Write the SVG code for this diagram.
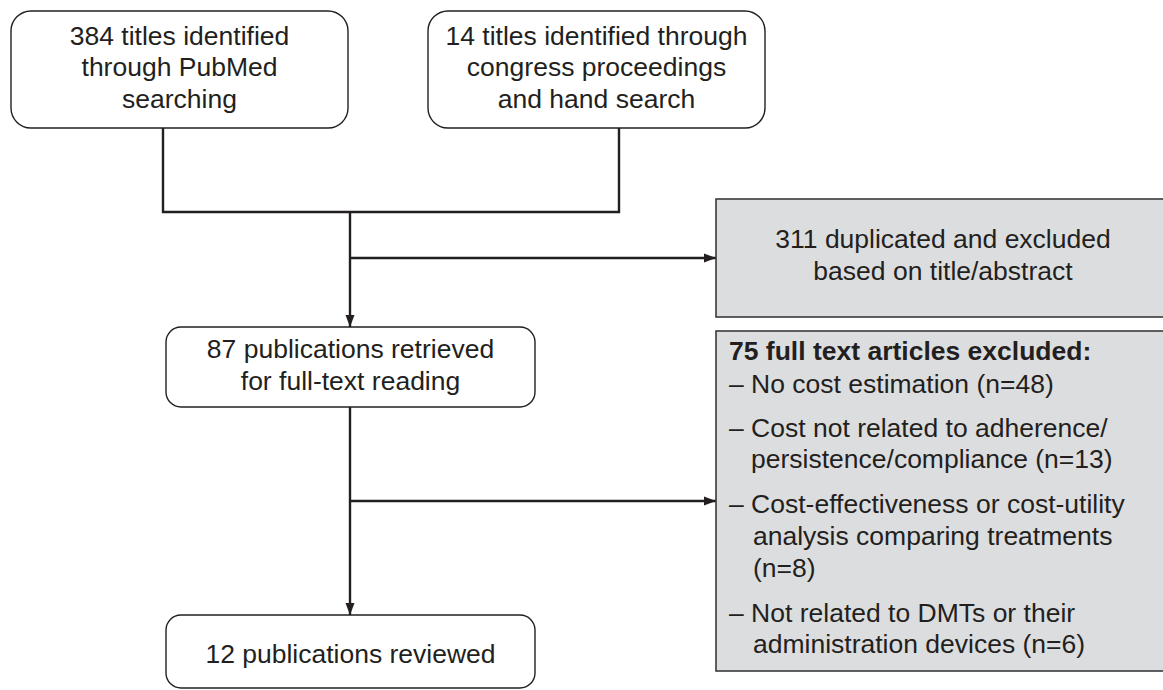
<svg xmlns="http://www.w3.org/2000/svg" width="1163" height="690" viewBox="0 0 1163 690">
<style>
.box{fill:#ffffff;stroke:#231f20;stroke-width:1.4}
.grey{fill:#dcdddf;stroke:#3a3a3c;stroke-width:1.6}
.t{font-family:"Liberation Sans",Arial,sans-serif;font-size:26.5px;fill:#231f20}
.c{text-anchor:middle}
.b{font-weight:bold}
.conn{fill:none;stroke:#231f20;stroke-width:2.4}
</style>
<defs>
<marker id="arr" markerUnits="userSpaceOnUse" markerWidth="12" markerHeight="12" viewBox="0 0 12 12" refX="12" refY="6" orient="auto">
<path d="M0,1.5 L12,6 L0,10.5 Z" fill="#231f20"/>
</marker>
</defs>
<rect width="1163" height="690" fill="#ffffff"/>
<g id="connectors">
<path class="conn" d="M163,128 V212 H619 V128"/>
<path class="conn" d="M350,212 V327" marker-end="url(#arr)"/>
<path class="conn" d="M350,258 H716" marker-end="url(#arr)"/>
<path class="conn" d="M350,407 V615" marker-end="url(#arr)"/>
<path class="conn" d="M350,501 H716" marker-end="url(#arr)"/>
</g>
<g id="node-pubmed">
<rect class="box" x="11" y="11" width="337" height="117" rx="20"/>
<text class="t c" x="179.5" y="45">384 titles identified</text>
<text class="t c" x="179.5" y="76">through PubMed</text>
<text class="t c" x="179.5" y="108">searching</text>
</g>
<g id="node-congress">
<rect class="box" x="428" y="11" width="337" height="117" rx="20"/>
<text class="t c" x="596.5" y="45">14 titles identified through</text>
<text class="t c" x="596.5" y="76">congress proceedings</text>
<text class="t c" x="596.5" y="108">and hand search</text>
</g>
<g id="node-duplicated">
<rect class="grey" x="716" y="199" width="460" height="118"/>
<text class="t c" x="943" y="248">311 duplicated and excluded</text>
<text class="t c" x="943" y="280">based on title/abstract</text>
</g>
<g id="node-retrieved">
<rect class="box" x="166" y="327" width="369" height="80" rx="15"/>
<text class="t c" x="350.5" y="358">87 publications retrieved</text>
<text class="t c" x="350.5" y="390">for full-text reading</text>
</g>
<g id="node-excluded">
<rect class="grey" x="716" y="331" width="460" height="340"/>
<text class="t b" x="729" y="360">75 full text articles excluded:</text>
<text class="t" x="729" y="393">– No cost estimation (n=48)</text>
<text class="t" x="729" y="437">– Cost not related to adherence/</text>
<text class="t" x="751" y="468">persistence/compliance (n=13)</text>
<text class="t" x="729" y="513">– Cost-effectiveness or cost-utility</text>
<text class="t" x="753" y="545">analysis comparing treatments</text>
<text class="t" x="753" y="577">(n=8)</text>
<text class="t" x="729" y="622">– Not related to DMTs or their</text>
<text class="t" x="753" y="653">administration devices (n=6)</text>
</g>
<g id="node-reviewed">
<rect class="box" x="166" y="615" width="369" height="73" rx="15"/>
<text class="t c" x="350.5" y="663">12 publications reviewed</text>
</g>
</svg>
